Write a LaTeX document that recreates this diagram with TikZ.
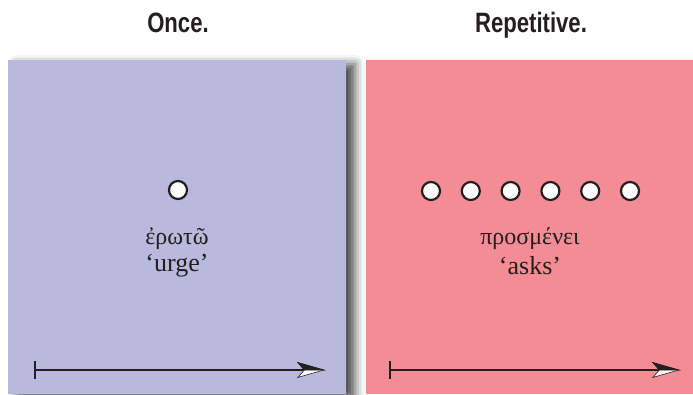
\documentclass[tikz,border=0pt]{standalone}
\usepackage{fontspec}
\setmainfont{Liberation Serif}
\setsansfont{Liberation Sans}[FakeStretch=0.79]
\usetikzlibrary{arrows.meta,shadows.blur}
\definecolor{lila}{RGB}{184,185,220}
\definecolor{rosa}{RGB}{243,140,148}
\definecolor{tinta}{RGB}{35,31,32}
\begin{document}
\begin{tikzpicture}[x=1pt,y=1pt]
\tikzset{evento/.style={circle,minimum size=18pt,inner sep=0pt,draw=tinta,line width=2.2pt,fill=white},
  titulo/.style={font=\sffamily\bfseries\fontsize{28}{32}\selectfont,text=tinta,anchor=base,inner sep=0pt},
  glosa/.style={font=\fontsize{24}{27}\selectfont,text=tinta,inner sep=0pt},
  sentido/.style={font=\fontsize{26}{29}\selectfont,text=tinta,inner sep=0pt},
  tiempo/.style={line width=1.5pt,tinta,{Bar[width=18pt,line width=2.4pt]}-{Stealth[length=28pt,width=16pt,inset=7pt,fill=white,line width=0.6pt,sep=-28pt]Stealth[length=28pt,width=16pt,inset=7pt,left,line width=0.6pt]}}}
\useasboundingbox (0,0) rectangle (693,394);

  \fill[lila,blur shadow={shadow xshift=9pt,shadow yshift=-4pt,shadow blur radius=9pt,shadow opacity=70}] (8,0) rectangle (346,334);
  \fill[rosa] (366,0) rectangle (693,334);

  \draw (178,361) node[titulo](once) {Once.};
  \draw (531,361) node[titulo](rep) {Repetitive.};

  \draw (178,204) node[evento](e0) {};
  \foreach \i in {0,...,5}
    \draw (431+39.8*\i,203) node[evento](r\i) {};

  \draw (177,155) node[glosa](gr1) {ἐρωτῶ};
  \draw (177,128) node[sentido](en1) {‘urge’};
  \draw (530,155) node[glosa](gr2) {προσμένει};
  \draw (530,128) node[sentido](en2) {‘asks’};

  \coordinate (a1) at (34,24);
  \coordinate (b1) at (326,24);
  \coordinate (a2) at (389,24);
  \coordinate (b2) at (681,24);
	\draw[tiempo] (a1) -- (b1);
	\draw[tiempo] (a2) -- (b2);
\end{tikzpicture}
\end{document}
